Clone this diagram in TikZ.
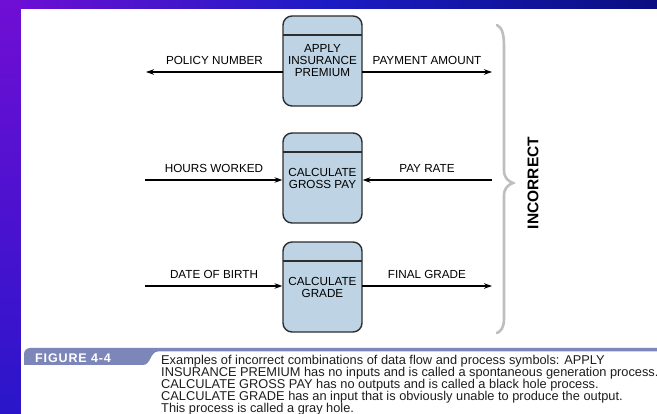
\documentclass[tikz,border=0pt]{standalone}
\usepackage{fontspec}
\setmainfont{Liberation Sans}
\usetikzlibrary{arrows.meta,calc}

\definecolor{procfill}{RGB}{190,212,228}
\definecolor{boxline}{RGB}{45,45,45}
\definecolor{bracegray}{RGB}{190,190,190}
\definecolor{capband}{RGB}{125,134,184}
\definecolor{captext}{RGB}{30,30,30}
\definecolor{bgpurple}{RGB}{112,14,212}
\definecolor{bgblue}{RGB}{28,28,196}
\definecolor{bgnavy}{RGB}{10,14,128}
\definecolor{bgviolet}{RGB}{42,22,202}

\tikzset{
  procbox/.style={draw=boxline, fill=procfill, line width=1.4pt, rounded corners=9pt,
    minimum width=79pt, minimum height=90pt, inner sep=0pt, outer sep=0pt,
    align=center, font=\fontsize{11.7}{12}\selectfont},
  divider/.style={draw=boxline, line width=1.3pt},
  flow/.style={line width=1.1pt, -{Stealth[length=8pt,width=5.5pt]}},
  flowlabel/.style={font=\fontsize{11.7}{12}\selectfont, inner sep=0pt, anchor=south, yshift=6.5pt},
  bracepath/.style={draw=bracegray, line width=2.6pt, line cap=round},
}

\begin{document}
\begin{tikzpicture}[x=1pt,y=-1pt]
\useasboundingbox (0,0) rectangle (657,414);
\clip (0,0) rectangle (657,414);

% frame: gradient bars on top and left, white page
\shade[left color=bgpurple, right color=bgnavy, middle color=bgblue] (0,0) rectangle (657,9);
\shade[top color=bgpurple, bottom color=bgviolet] (0,0) rectangle (21,414);
\fill[white] (21,9) rectangle (657,414);

% process symbols
\node[procbox] (p1) at (322.5,61) {APPLY\\INSURANCE\\PREMIUM};
\node[procbox] (p2) at (322.5,178) {CALCULATE\\GROSS PAY};
\node[procbox] (p3) at (322.5,287) {CALCULATE\\GRADE};
\foreach \p in {p1,p2,p3}
  \draw[divider] ($(\p.north west)+(0,19)$) -- ($(\p.north east)+(0,19)$);

% free ends of the data flows
\coordinate (pn) at (146,72);
\coordinate (pa) at (492,72);
\coordinate (hw) at (145,180);
\coordinate (pr) at (492,180);
\coordinate (db) at (145,286);
\coordinate (fg) at (492,286);

% data flows
\draw[flow] (pn -| p1.west) -- (pn) node[flowlabel, midway] {POLICY NUMBER};
\draw[flow] (pa -| p1.east) -- (pa) node[flowlabel, midway] {PAYMENT AMOUNT};
\draw[flow, shorten >=0.6pt] (hw) -- (hw -| p2.west) node[flowlabel, midway] {HOURS WORKED};
\draw[flow, shorten >=0.6pt] (pr) -- (pr -| p2.east) node[flowlabel, midway] {PAY RATE};
\draw[flow, shorten >=0.6pt] (db) -- (db -| p3.west) node[flowlabel, midway] {DATE OF BIRTH};
\draw[flow] (fg -| p3.east) -- (fg) node[flowlabel, midway] {FINAL GRADE};

% grouping brace
\draw[bracepath] (497,25) .. controls (503,28) and (504,36) .. (504,48)
  -- (504,170) .. controls (504,178) and (508,181) .. (513,183)
  .. controls (508,185) and (504,188) .. (504,196)
  -- (504,318) .. controls (504,328) and (501,331) .. (497,333);
\node[rotate=90, font=\bfseries\fontsize{15.5}{16}\selectfont] (inc) at (533,183) {INCORRECT};

% caption band with tab
\fill[capband] (24,365) -- (24,354) .. controls (24,350.7) and (26.7,348) .. (30,348)
  -- (660,348) -- (660,351.5) -- (158,351.5)
  .. controls (150,351.5) and (151,365) .. (143,365) -- cycle;
\node[anchor=base west, inner sep=0pt, text=white,
  font=\bfseries\fontsize{12.5}{13}\selectfont\addfontfeatures{LetterSpace=7}] (fig) at (35,362.5) {FIGURE 4-4};
\node[anchor=north west, inner sep=0pt, align=left, text=captext,
  font=\fontsize{12.8}{12}\selectfont] (cap) at (161,355)
  {Examples of incorrect combinations of data flow and process symbols: APPLY\\
   INSURANCE PREMIUM has no inputs and is called a spontaneous generation process.\\
   CALCULATE GROSS PAY has no outputs and is called a black hole process.\\
   CALCULATE GRADE has an input that is obviously unable to produce the output.\\
   This process is called a gray hole.};
\end{tikzpicture}
\end{document}
